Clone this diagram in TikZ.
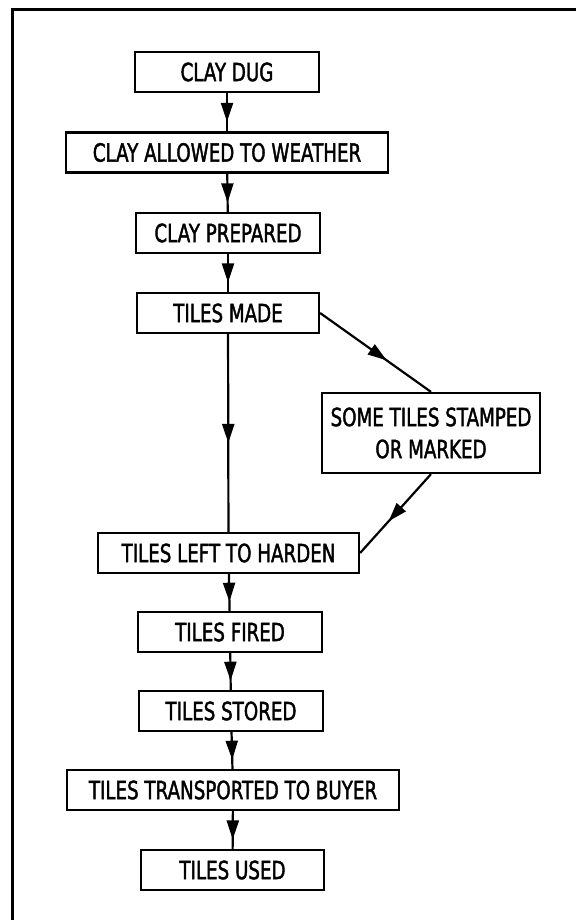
\documentclass[tikz,border=0pt]{standalone}
\usepackage{fontspec}
\setmainfont[FakeStretch=0.73,FakeBold=1.6]{DejaVu Sans}
\usetikzlibrary{arrows.meta,decorations.markings}

\tikzset{
   stepbox/.style={draw, line width=2.2pt, minimum width=184pt, minimum height=40pt,
      inner sep=0pt, align=center, font=\fontsize{25}{32}\selectfont},
   midarrow/.style={line width=2.2pt, postaction={decorate},
      decoration={markings, mark=at position #1 with {\arrow{Triangle[length=19pt,width=12pt]}}}},
}

\begin{document}
\begin{tikzpicture}[x=1pt, y=-1pt]
      \useasboundingbox (0, 0) rectangle (576, 920);
      \begin{scope}
         \draw[line width=3pt] (576, 10) -- (12, 10) -- (12, 920);
         \node[stepbox] (dug) at (227, 72) {CLAY DUG};
         \node[stepbox, minimum width=322pt] (allowed) at (227, 152.5) {CLAY ALLOWED TO WEATHER};
         \node[stepbox] (prepared) at (228, 233) {CLAY PREPARED};
         \node[stepbox, minimum width=182pt] (made) at (228, 313) {TILES MADE};
         \node[stepbox, minimum width=218pt, minimum height=80pt] (stamped) at (431, 433) {SOME TILES STAMPED\\OR MARKED};
         \node[stepbox, minimum width=261pt] (harden) at (228.5, 553) {TILES LEFT TO HARDEN};
         \node[stepbox] (fired) at (230, 632) {TILES FIRED};
         \node[stepbox] (stored) at (231, 711) {TILES STORED};
         \node[stepbox, minimum width=332pt] (transported) at (233, 790) {TILES TRANSPORTED TO BUYER};
         \node[stepbox, minimum width=183pt] (used) at (232.5, 870) {TILES USED};
         \foreach \a/\b in {dug/allowed, allowed/prepared, prepared/made, harden/fired,
            fired/stored, stored/transported, transported/used} {
            \draw[midarrow=0.75] (\a) -- (\b);
         }
         \draw[midarrow=0.55] (made) -- (harden);
         \draw[midarrow=0.6] (made.east) -- (stamped.north);
         \draw[midarrow=0.6] (stamped.south) -- (harden.east);
      \end{scope}
   \end{tikzpicture}
\end{document}
